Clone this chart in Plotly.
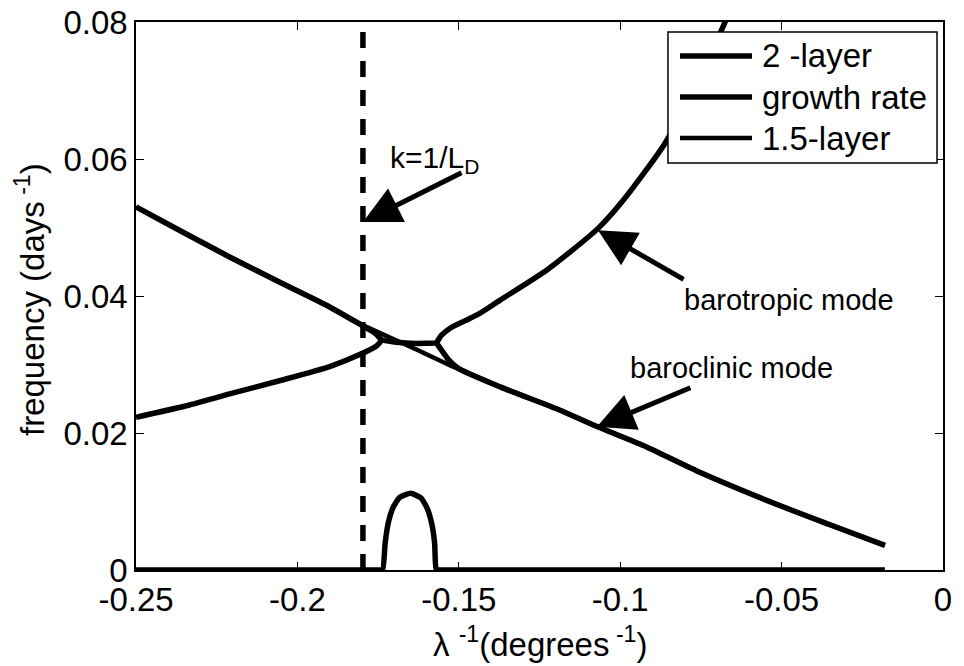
import plotly.graph_objects as go

# 2-layer model: baroclinic branch (left), coalesced part, barotropic branch (right)
x_bc_left = [-0.25, -0.235, -0.221, -0.205, -0.19, -0.18, -0.176, -0.1738]
y_bc_left = [0.0530, 0.0492, 0.0457, 0.0419, 0.0384, 0.0357, 0.0346, 0.0336]
x_merge = [-0.1738, -0.170, -0.165, -0.160, -0.157]
y_merge = [0.0336, 0.0333, 0.0331, 0.0331, 0.0332]
x_bt_right = [-0.157, -0.1555, -0.1527, -0.148, -0.1434, -0.1372, -0.1227,
              -0.107, -0.099, -0.0861, -0.0753, -0.0675, -0.062]
y_bt_right = [0.0332, 0.0342, 0.0353, 0.0364, 0.0375, 0.0394, 0.0438,
              0.0498, 0.0540, 0.0623, 0.0720, 0.0800, 0.0865]
# 2-layer: barotropic branch (left) and baroclinic branch (right)
x_bt_left = [-0.25, -0.235, -0.221, -0.205, -0.19, -0.18, -0.1755, -0.1738]
y_bt_left = [0.0223, 0.0239, 0.0257, 0.0277, 0.0297, 0.0316, 0.0327, 0.0336]
x_bc_right = [-0.157, -0.1555, -0.153, -0.150, -0.137, -0.119, -0.107,
              -0.092, -0.075, -0.05, -0.035, -0.018]
y_bc_right = [0.0332, 0.0322, 0.0306, 0.0294, 0.0267, 0.0234, 0.0209,
              0.0180, 0.0142, 0.0093, 0.0066, 0.0036]

# growth rate
x_gr = [-0.25, -0.21, -0.18, -0.1745, -0.1736, -0.1728, -0.1718, -0.1703, -0.1683,
        -0.1649, -0.1617, -0.1598, -0.1584, -0.1575, -0.157, -0.1562, -0.15, -0.1,
        -0.05, -0.018]
y_gr = [0, 0, 0, 0, 0, 0.0040, 0.0070, 0.0092, 0.0106,
        0.0112, 0.0105, 0.0090, 0.0068, 0.0040, 0, 0, 0, 0,
        0, 0]

# 1.5-layer model
x_15 = [-0.25, -0.221, -0.19, -0.18, -0.165, -0.15, -0.137, -0.119, -0.107,
        -0.092, -0.075, -0.05, -0.035, -0.018]
y_15 = [0.0530, 0.0457, 0.0384, 0.0358, 0.0326, 0.0293, 0.0267, 0.0234, 0.0209,
        0.0180, 0.0142, 0.0093, 0.0066, 0.0036]

k_ld = -0.1797
x_ticks = [-0.25, -0.2, -0.15, -0.1, -0.05, 0]
x_ticktext = ['-0.25', '-0.2', '-0.15', '-0.1', '-0.05', '0']
y_ticks = [0, 0.02, 0.04, 0.06, 0.08]
y_ticktext = ['0', '0.02', '0.04', '0.06', '0.08']
legend_names = ['2 -layer', 'growth rate', '1.5-layer']
legend_widths = [5.5, 5.5, 4.5]

FONT = 'Liberation Sans, Arial, sans-serif'

x2 = x_bc_left + x_merge[1:] + x_bt_right[1:] + [None] + x_bt_left + [None] + x_bc_right
y2 = y_bc_left + y_merge[1:] + y_bt_right[1:] + [None] + y_bt_left + [None] + y_bc_right

fig = go.Figure()
fig.add_trace(go.Scatter(x=x2, y=y2, mode='lines', name=legend_names[0], showlegend=False,
                         line=dict(color='black', width=5.5, shape='spline', smoothing=0.6)))
fig.add_trace(go.Scatter(x=x_gr, y=y_gr, mode='lines', name=legend_names[1], showlegend=False,
                         line=dict(color='black', width=5.5, shape='spline', smoothing=0.5)))
fig.add_trace(go.Scatter(x=x_15, y=y_15, mode='lines', name=legend_names[2], showlegend=False,
                         line=dict(color='black', width=4.5, shape='spline', smoothing=0.6)))
fig.add_trace(go.Scatter(x=[k_ld, k_ld], y=[0, 0.08], mode='lines', showlegend=False,
                         line=dict(color='black', width=5.5, dash='16px,13px')))

# text labels
fig.add_annotation(x=-0.1719, y=0.0600, text='k=1/L<sub>D</sub>', showarrow=False,
                   xanchor='left', yanchor='middle', font=dict(size=30, family=FONT, color='black'))
fig.add_annotation(x=-0.0809, y=0.0394, text='barotropic mode', showarrow=False,
                   xanchor='left', yanchor='middle', font=dict(size=29, family=FONT, color='black'))
fig.add_annotation(x=-0.0976, y=0.0295, text='baroclinic mode', showarrow=False,
                   xanchor='left', yanchor='middle', font=dict(size=29, family=FONT, color='black'))

# arrows
arrows = [
    (k_ld, 0.0508, -0.1487, 0.0581),
    (-0.1069, 0.0496, -0.0799, 0.0423),
    (-0.1072, 0.0209, -0.0778, 0.0267),
]
for tx, ty, sx, sy in arrows:
    fig.add_annotation(x=tx, y=ty, ax=sx, ay=sy, xref='x', yref='y', axref='x', ayref='y',
                       text='', showarrow=True, arrowhead=2, arrowsize=1.5,
                       arrowwidth=5, arrowcolor='black')

# legend box drawn by hand so the sample lines are as long as in the original
fig.add_shape(type='rect', xref='paper', yref='paper', x0=0.6592, x1=0.9926, y0=0.7427, y1=0.9818,
              line=dict(color='black', width=1.5), fillcolor='white', layer='above')
leg_y = [0.938, 0.8631, 0.7883]
for name, w, ly in zip(legend_names, legend_widths, leg_y):
    fig.add_shape(type='line', xref='paper', yref='paper', x0=0.6741, x1=0.7633, y0=ly, y1=ly,
                  line=dict(color='black', width=w), layer='above')
    fig.add_annotation(x=0.7732, y=ly, xref='paper', yref='paper', text=name, showarrow=False,
                       xanchor='left', yanchor='middle',
                       font=dict(size=33, family=FONT, color='black'))

# axis titles
fig.add_annotation(x=0.5006, y=-0.1314, xref='paper', yref='paper',
                   text='λ <sup>-1</sup>(degrees<sup> -1</sup>)', showarrow=False,
                   xanchor='center', yanchor='middle', font=dict(size=33, family=FONT, color='black'))
fig.add_annotation(x=-0.1313, y=0.4927, xref='paper', yref='paper',
                   text='frequency (days<sup> -1</sup>)', showarrow=False, textangle=-90,
                   xanchor='center', yanchor='middle', font=dict(size=33, family=FONT, color='black'))

axis_common = dict(showline=True, linecolor='black', linewidth=1.5, mirror='ticks',
                   ticks='inside', ticklen=8, tickwidth=1.2, tickcolor='black',
                   showgrid=False, zeroline=False, automargin=False,
                   ticklabeloverflow='allow',
                   tickfont=dict(size=33, family=FONT, color='black'))

fig.update_xaxes(range=[-0.25, 0], tickvals=x_ticks, ticktext=x_ticktext, **axis_common)
fig.update_yaxes(range=[0, 0.08], tickvals=y_ticks, ticktext=y_ticktext, **axis_common)

# the page body has an 8px margin, so the plot area is placed relative to that
fig.update_layout(
    width=956, height=658,
    margin=dict(l=128, r=21, t=14, b=96),
    plot_bgcolor='white', paper_bgcolor='white',
    font=dict(family=FONT, color='black'),
    showlegend=False,
)

fig.write_html("out.html")
